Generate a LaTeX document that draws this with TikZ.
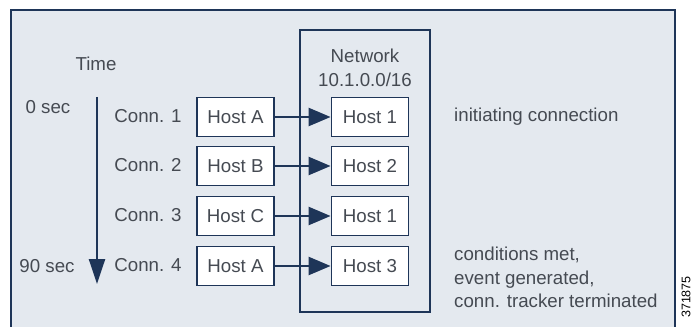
\documentclass[tikz,border=0pt]{standalone}
\usepackage{fontspec}
\setmainfont{Liberation Sans}
\usetikzlibrary{arrows.meta}
\definecolor{bgc}{HTML}{E4E9EF}
\definecolor{linec}{HTML}{1E3558}
\definecolor{txtc}{HTML}{454A52}
\tikzset{
  x=1pt, y=-1pt,
  lbl/.style={font=\fontsize{18.7}{23.5}\selectfont, text=txtc, inner sep=0pt},
  hostbox/.style={draw=linec, line width=1.8pt, fill=white, minimum width=77pt, minimum height=39pt, inner sep=0pt, font=\fontsize{18.7}{22}\selectfont, text=txtc},
  conn/.style={draw=linec, line width=2.4pt, -{Triangle[length=22pt,width=18pt]}},
}
\begin{document}
\begin{tikzpicture}
\clip (0,0) rectangle (692,326);
\fill[white] (0,0) rectangle (692,326);
\draw[linec, line width=1.8pt, fill=bgc] (11,10) rectangle (675,345);
\draw[linec, line width=2.2pt] (300,30) rectangle (430,312);

\node[lbl] (time) at (96,64) {Time};
\node[lbl] (t0) at (48,107) {0 sec};
\node[lbl] (t90) at (47,266) {90 sec};
\coordinate (ts) at (97,97);
\coordinate (te) at (97,284);
\draw[linec, line width=2.4pt, -{Triangle[length=25pt,width=16pt]}] (ts) -- (te);

\node[lbl] (net) at (365,56) {Network};
\node[lbl] (netip) at (365,80) {10.1.0.0/16};

\foreach \i/\src/\dst/\y in {1/Host A/Host 1/117, 2/Host B/Host 2/166, 3/Host C/Host 1/216, 4/Host A/Host 3/266}{
  \node[lbl] (c\i) at (148,\y-1) {Conn. \i};
  \node[hostbox] (s\i) at (235.5,\y) {\src};
  \node[hostbox] (d\i) at (370,\y) {\dst};
  \draw[conn] (s\i) -- (d\i);
}

\node[lbl, anchor=west] (init) at (454,117) {initiating connection};
\node[lbl, anchor=north west, align=left] (cond) at (454,247) {conditions met,\\event generated,\\conn. tracker terminated};
\node[font=\fontsize{12.5}{14}\selectfont, text=black, rotate=90, inner sep=0pt] (fig) at (686,297) {371875};
\end{tikzpicture}
\end{document}
